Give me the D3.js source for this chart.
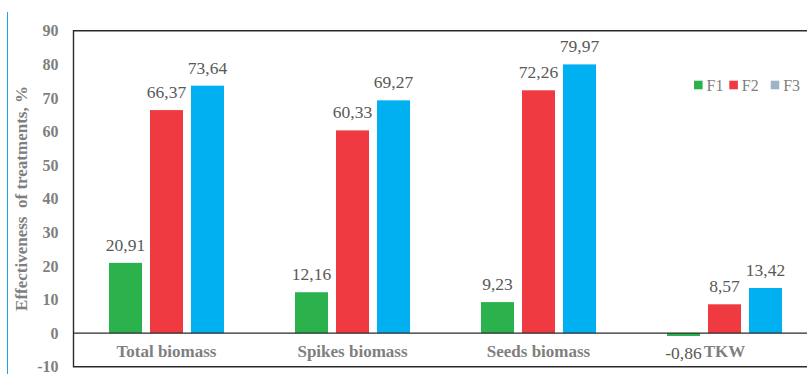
<!DOCTYPE html>
<html>
<head>
<meta charset="utf-8">
<script src="https://cdn.jsdelivr.net/npm/d3@7"></script>
<style>
  body { margin: 0; background: #fff; }
  svg { display: block; }
  text { font-family: "Liberation Serif", "Times New Roman", serif; }
</style>
</head>
<body>
<svg width="807" height="374"></svg>
<script>
// data
var categories = ["Total biomass", "Spikes biomass", "Seeds biomass", "TKW"];
var seriesNames = ["F1", "F2", "F3"];
var F1 = [20.91, 12.16, 9.23, -0.86];
var F2 = [66.37, 60.33, 72.26, 8.57];
var F3 = [73.64, 69.27, 79.97, 13.42];
var yTicks = [-10, 0, 10, 20, 30, 40, 50, 60, 70, 80, 90];

var barColors = ["#2bb24c", "#ee3a40", "#00b0f0"];
var legendColors = ["#2bb24c", "#ee3a40", "#9fb3c6"];

var svg = d3.select("svg");
var width = 807, height = 374;

var plotLeft = 73.5, plotTop = 30.7, plotBottom = 366.7;

var y = d3.scaleLinear()
    .domain([-10, 90])
    .range([plotBottom, plotTop]);

var x = d3.scaleBand()
    .domain(categories)
    .range([plotLeft, plotLeft + 4 * 186]);

var xSub = d3.scaleBand()
    .domain(seriesNames)
    .range([0, x.bandwidth()])
    .paddingInner(0.195)
    .paddingOuter(0.866);

var rows = [];
categories.forEach(function(c, i) {
    rows.push({cat: c, s: "F1", v: F1[i], k: 0});
    rows.push({cat: c, s: "F2", v: F2[i], k: 1});
    rows.push({cat: c, s: "F3", v: F3[i], k: 2});
});

// left blue rule
svg.append("line")
    .attr("x1", 7.5).attr("x2", 7.5)
    .attr("y1", 12).attr("y2", height)
    .attr("stroke", "#1ca3e0")
    .attr("stroke-width", 1);

// bars
svg.append("g")
    .selectAll("rect")
    .data(rows)
    .join("rect")
    .attr("x", d => x(d.cat) + xSub(d.s))
    .attr("width", xSub.bandwidth())
    .attr("y", d => y(Math.max(0, d.v)))
    .attr("height", d => Math.abs(y(d.v) - y(0)))
    .attr("fill", d => barColors[d.k]);

// value labels
var fmt = v => d3.format(".2f")(v).replace(".", ",").replace("\u2212", "-");
svg.append("g")
    .selectAll("text")
    .data(rows)
    .join("text")
    .attr("x", d => x(d.cat) + xSub(d.s) + xSub.bandwidth() / 2)
    .attr("y", d => d.v >= 0 ? y(d.v) - 12 : 359)
    .attr("text-anchor", "middle")
    .attr("font-size", 17.5)
    .attr("fill", "#595959")
    .text(d => fmt(d.v));

// frame
var frame = svg.append("g")
    .attr("stroke", "#2a2a2a")
    .attr("stroke-width", 1.4)
    .attr("fill", "none");
frame.append("path")
    .attr("d", "M" + width + "," + plotTop + "H" + plotLeft + "V" + plotBottom + "H" + width);
frame.append("line")
    .attr("x1", plotLeft).attr("x2", width)
    .attr("y1", y(0)).attr("y2", y(0));

// y tick labels
svg.append("g")
    .selectAll("text")
    .data(yTicks)
    .join("text")
    .attr("x", 58.5)
    .attr("y", d => y(d))
    .attr("dy", "0.35em")
    .attr("text-anchor", "end")
    .attr("font-size", 16)
    .attr("font-weight", "bold")
    .attr("fill", "#7f7f7f")
    .text(d => String(d));

// category labels
svg.append("g")
    .selectAll("text")
    .data(categories)
    .join("text")
    .attr("x", d => x(d) + x.bandwidth() / 2)
    .attr("y", 357.3)
    .attr("text-anchor", "middle")
    .attr("font-size", 17)
    .attr("font-weight", "bold")
    .attr("fill", "#7f7f7f")
    .text(d => d);

// y axis title
svg.append("text")
    .attr("transform", "translate(27,198.5) rotate(-90)")
    .attr("text-anchor", "middle")
    .attr("font-size", 17)
    .attr("font-weight", "bold")
    .attr("fill", "#7f7f7f")
    .style("white-space", "pre")
    .text("Effectiveness  of treatments, %");

// legend
var legendX = [694, 729.3, 770.7];
var legend = svg.append("g")
    .selectAll("g")
    .data(seriesNames)
    .join("g")
    .attr("transform", (d, i) => "translate(" + legendX[i] + ",80.7)");
legend.append("rect")
    .attr("width", 8.6).attr("height", 8.6)
    .attr("fill", (d, i) => legendColors[i]);
legend.append("text")
    .attr("x", 12.5)
    .attr("y", 10)
    .attr("font-size", 16)
    .attr("fill", "#7f7f7f")
    .text(d => d);
</script>
</body>
</html>
